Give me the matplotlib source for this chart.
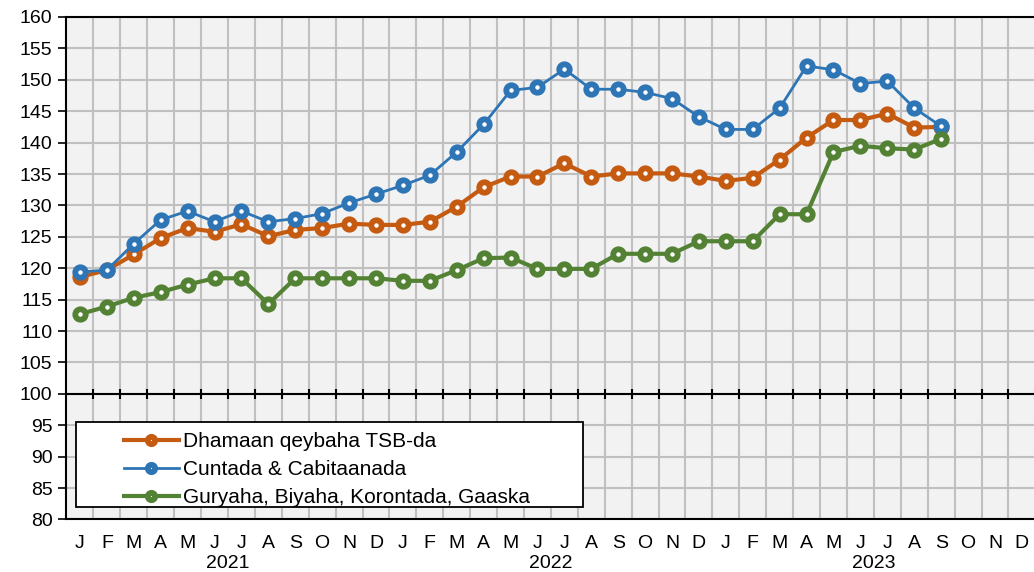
import numpy as np
import matplotlib
matplotlib.use("Agg")
import matplotlib.pyplot as plt
from matplotlib.patches import Rectangle
from matplotlib.transforms import blended_transform_factory

plt.rcParams['font.family'] = ['Liberation Sans', 'DejaVu Sans']

months = ['J', 'F', 'M', 'A', 'M', 'J', 'J', 'A', 'S', 'O', 'N', 'D'] * 3
years = ['2021', '2022', '2023']

labels = ['Dhamaan qeybaha TSB-da', 'Cuntada & Cabitaanada',
          'Guryaha, Biyaha, Korontada, Gaaska']

dhamaan = [118.6, 119.7, 122.2, 124.8, 126.4, 125.8, 127.0, 125.1, 126.1, 126.4, 127.1, 126.9,
           126.9, 127.4, 129.8, 132.9, 134.6, 134.6, 136.7, 134.6, 135.1, 135.1, 135.1, 134.6,
           133.9, 134.4, 137.3, 140.8, 143.6, 143.6, 144.6, 142.4, 142.5]
cuntada = [119.4, 119.7, 123.9, 127.7, 129.1, 127.4, 129.1, 127.4, 127.9, 128.7, 130.4, 131.8,
           133.2, 134.8, 138.5, 142.9, 148.3, 148.8, 151.7, 148.5, 148.5, 148.0, 147.0, 144.1,
           142.1, 142.1, 145.5, 152.2, 151.6, 149.4, 149.8, 145.5, 142.6]
guryaha = [112.7, 113.9, 115.3, 116.2, 117.4, 118.4, 118.4, 114.3, 118.4, 118.4, 118.4, 118.4,
           118.0, 118.0, 119.7, 121.6, 121.7, 119.9, 119.9, 119.9, 122.3, 122.3, 122.3, 124.3,
           124.3, 124.3, 128.6, 128.6, 138.5, 139.5, 139.1, 138.9, 140.6]

colors = ['#c55a11', '#2e75b6', '#548235']
widths = [3.0, 2.0, 3.0]

fig = plt.figure(figsize=(10.34, 5.72), dpi=100)
ax = fig.add_axes([0.0643, 0.0918, 0.937, 0.8785])
ax.set_facecolor('#f2f2f2')

x = np.arange(len(dhamaan))
for vals, c, lw, lab in zip([dhamaan, cuntada, guryaha], colors, widths, labels):
    ax.plot(x, vals, color=c, lw=lw, marker='o', ms=7.5, mew=4.2,
            mfc='white', mec=c, label=lab, zorder=5, clip_on=False)

ax.set_xlim(-0.5, len(months) - 0.5)
ax.set_ylim(80, 160)
ax.set_yticks(np.arange(80, 161, 5))
ax.set_xticks(np.arange(len(months)))
ax.set_xticklabels(months)
ax.set_xticks(np.arange(0.5, len(months), 1), minor=True)

ax.grid(True, which='minor', axis='x', color='#c0c0c0', lw=1.5)
ax.grid(True, which='major', axis='y', color='#c0c0c0', lw=1.5)
ax.set_axisbelow(True)

ax.tick_params(axis='x', which='both', length=0, labelsize=14, pad=11)
ax.tick_params(axis='y', length=6, width=1.2, labelsize=14, pad=4)

for s in ['left', 'bottom', 'top']:
    ax.spines[s].set_color('black')
    ax.spines[s].set_linewidth(1.5)
ax.spines['right'].set_visible(False)

# axis line at 100 with cross ticks
ax.axhline(100, color='black', lw=1.5, zorder=3)
ax.plot(np.arange(0.5, len(months), 1), [100] * (len(months)), ls='none',
        marker='|', ms=7.5, mew=1.5, color='black', zorder=3)

trans = blended_transform_factory(ax.transData, ax.transAxes)
for i, yr in enumerate(years):
    ax.text(i * 12 + 5.5, -0.087, yr, transform=trans, ha='center', va='center', fontsize=14)

ax.add_patch(Rectangle((0.0098, 0.0249), 0.523, 0.169, transform=ax.transAxes,
                       facecolor='white', edgecolor='black', lw=1.3, zorder=4))
ax.legend(loc='upper left', bbox_to_anchor=(0.049, 0.194), frameon=False,
          fontsize=15, borderpad=0, handlelength=2.6, handletextpad=0.2,
          labelspacing=0.42, markerscale=0.7).set_zorder(6)

fig.savefig('out.png', dpi=100)
